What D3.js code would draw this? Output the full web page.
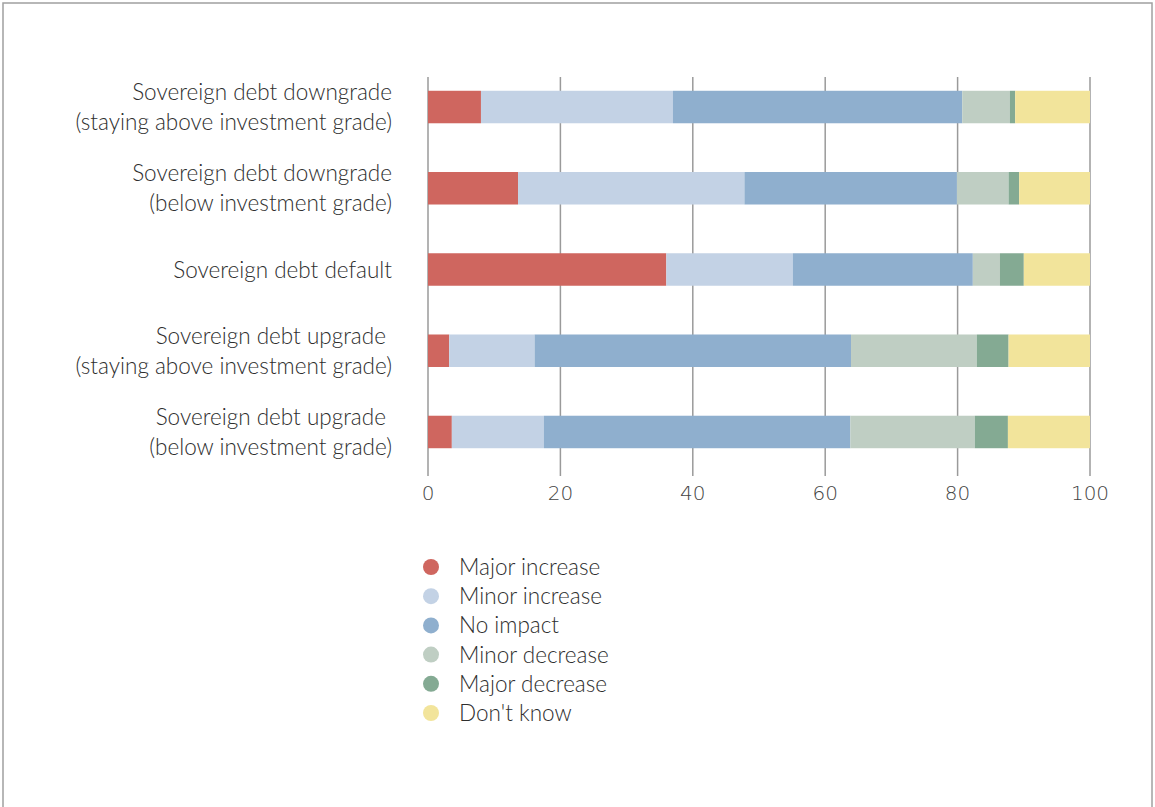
<!DOCTYPE html>
<html>
<head>
<meta charset="utf-8">
<script src="https://cdn.jsdelivr.net/npm/d3@7"></script>
<style>
  html, body { margin: 0; padding: 0; background: #fff; }
  svg { display: block; }
  text { font-family: Lato, "Open Sans", sans-serif; font-weight: 300; fill: #2e2e2e; }
</style>
</head>
<body>
<svg id="chart" width="1155" height="807"></svg>
<script>
const categories = [
  ["Sovereign debt downgrade", "(staying above investment grade)"],
  ["Sovereign debt downgrade", "(below investment grade)"],
  ["Sovereign debt default"],
  ["Sovereign debt upgrade ", "(staying above investment grade)"],
  ["Sovereign debt upgrade ", "(below investment grade)"]
];
const seriesNames = ["Major increase", "Minor increase", "No impact", "Minor decrease", "Major decrease", "Don't know"];
const majorIncrease = [8.0, 13.6, 36.0, 3.2, 3.6];
const minorIncrease = [29.0, 34.2, 19.1, 12.9, 13.9];
const noImpact      = [43.7, 32.1, 27.2, 47.8, 46.3];
const minorDecrease = [7.2, 7.8, 4.1, 19.0, 18.8];
const majorDecrease = [0.8, 1.6, 3.6, 4.8, 5.0];
const dontKnow      = [11.3, 10.7, 10.0, 12.3, 12.4];
const tickValues = [0, 20, 40, 60, 80, 100];
const colors = ["#CF665F", "#C3D2E5", "#8FAFCE", "#BFCEC3", "#84AA93", "#F2E49B"];

const seriesValues = [majorIncrease, minorIncrease, noImpact, minorDecrease, majorDecrease, dontKnow];
const keys = categories.map((c, i) => "c" + i);
const table = keys.map((k, i) => {
  const row = { key: k };
  seriesNames.forEach((s, j) => row[s] = seriesValues[j][i]);
  return row;
});

const svg = d3.select("#chart");

// outer frame
svg.append("rect").attr("x", 3).attr("y", 3).attr("width", 1149).attr("height", 820)
  .attr("fill", "none").attr("stroke", "#a0a0a0").attr("stroke-width", 1.5);

const x = d3.scaleLinear().domain([0, 100]).range([428, 1090]);
const y = d3.scaleBand().domain(keys).range([66.4, 472.6]).paddingInner(0.6).paddingOuter(0.3);

// gridlines
svg.append("g").selectAll("line").data(tickValues).join("line")
  .attr("x1", d => x(d)).attr("x2", d => x(d))
  .attr("y1", 77).attr("y2", 476)
  .attr("stroke", "#9a9a9a").attr("stroke-width", 1.5);

// tick labels
svg.append("g").selectAll("text").data(tickValues).join("text")
  .attr("x", d => x(d)).attr("y", 493)
  .attr("text-anchor", "middle").attr("dominant-baseline", "central")
  .style("font-size", "20px").style("fill", "#444")
  .style("font-family", "'DejaVu Sans', sans-serif").style("font-weight", "200")
  .text(d => d);

// stacked bars
const stack = d3.stack().keys(seriesNames);
const stacked = stack(table);
svg.append("g").selectAll("g").data(stacked).join("g")
  .attr("fill", (d, i) => colors[i])
  .selectAll("rect").data(d => d).join("rect")
  .attr("x", d => x(d[0]))
  .attr("width", d => x(d[1]) - x(d[0]))
  .attr("y", d => y(d.data.key))
  .attr("height", y.bandwidth());

// category labels
const lab = svg.append("g").selectAll("text").data(categories).join("text")
  .attr("text-anchor", "end")
  .attr("x", 392)
  .attr("y", (d, i) => y(keys[i]) + y.bandwidth() / 2)
  .style("font-size", "22.5px");
lab.each(function(lines) {
  const t = d3.select(this);
  const n = lines.length;
  lines.forEach((l, k) => {
    t.append("tspan").attr("x", 392)
      .attr("dy", k === 0 ? ((-(n - 1) / 2) * 30 + 8) + "px" : "30px")
      .text(l);
  });
});

// legend
const lg = svg.append("g").selectAll("g").data(seriesNames).join("g")
  .attr("transform", (d, i) => `translate(431, ${567 + i * 29.2})`);
lg.append("circle").attr("r", 8).attr("fill", (d, i) => colors[i]);
lg.append("text").attr("x", 28).attr("y", 8).style("font-size", "22.5px").text(d => d);
</script>
</body>
</html>
